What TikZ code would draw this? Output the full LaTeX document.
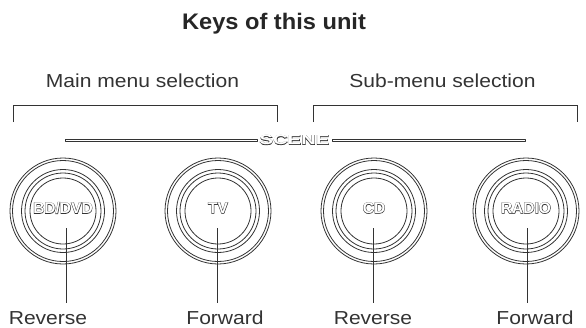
\documentclass[tikz,border=0pt]{standalone}
\usepackage{fontspec}
\setmainfont{Liberation Sans}
\newfontfamily\lightfont[FakeStretch=1.12]{Liberation Sans}
\newfontfamily\titlefont[FakeStretch=1.05]{Liberation Sans}
\newfontfamily\keyfont{Liberation Sans Bold}
\newfontfamily\keyfontO[FakeBold=5]{Liberation Sans Bold}
\newfontfamily\scenefont[FakeStretch=1.5]{Liberation Sans Bold}
\newfontfamily\scenefontO[FakeStretch=1.5,FakeBold=5]{Liberation Sans Bold}
\definecolor{ink}{gray}{0.2}
\tikzset{
  lbl/.style={font=\lightfont\fontsize{18.8}{20}\selectfont, text=ink, inner sep=0pt, anchor=base},
  ttl/.style={font=\titlefont\bfseries\fontsize{22.5}{24}\selectfont, text=black!85, inner sep=0pt, anchor=base},
  keyO/.style={font=\keyfontO\fontsize{15.5}{16}\selectfont, text=ink, inner sep=0pt},
  keyW/.style={font=\keyfont\fontsize{15.5}{16}\selectfont, text=white, inner sep=0pt},
  sceneO/.style={font=\scenefontO\fontsize{13.5}{14}\selectfont, text=ink, inner sep=0pt},
  sceneW/.style={font=\scenefont\fontsize{13.5}{14}\selectfont, text=white, inner sep=0pt},
  ring/.style={draw=ink, line width=0.8pt},
  brk/.style={draw=ink, line width=1pt},
  bar/.style={draw=ink, line width=0.75pt, line join=round},
  lead/.style={draw=ink, line width=0.9pt},
}
\begin{document}
\begin{tikzpicture}[x=1pt,y=-1pt]
\useasboundingbox (0,0) rectangle (586,327);
\node[ttl] (title) at (274,29) {Keys of this unit};
\node[lbl] (main) at (142.5,87) {Main menu selection};
\node[lbl] (sub) at (442.5,87) {Sub-menu selection};
\draw[brk] (13,122) -- (13,105) -- (277,105) -- (277,122);
\draw[brk] (313,122) -- (313,105) -- (577,105) -- (577,122);
\node[sceneO] (scene) at (294.5,140) {SCENE};
\node[sceneW] (scenew) at (294.5,140) {SCENE};
\coordinate (sl) at (65,140);
\coordinate (sa) at (257,140);
\coordinate (sb) at (332,140);
\coordinate (sr) at (525,140);
\draw[bar] ([yshift=1.1pt]sl) -- ([yshift=1.1pt]sa) -- ([yshift=-1.1pt]sa) -- ([yshift=-1.1pt]sl) -- cycle;
\draw[bar] ([yshift=1.1pt]sb) -- ([yshift=1.1pt]sr) -- ([yshift=-1.1pt]sr) -- ([yshift=-1.1pt]sb) -- cycle;
\foreach \cx/\nm/\txt in {63/k1/{BD/DVD}, 218/k2/TV, 374/k3/CD, 526/k4/RADIO}{
  \draw[ring] (\cx,211) circle (53);
  \draw[ring] (\cx,211) circle (50.5);
  \draw[ring] (\cx,211) circle (41.5);
  \draw[ring] (\cx,211) circle (38);
  \draw[ring] (\cx,211) circle (33);
  \node[keyO] (\nm) at (\cx,208) {\txt};
  \node[keyW] (\nm w) at (\cx,208) {\txt};
}
\node[lbl] (r1) at (48,324) {Reverse};
\node[lbl] (f1) at (225,324) {Forward};
\node[lbl] (r2) at (373,324) {Reverse};
\node[lbl] (f2) at (535,324) {Forward};
\foreach \i/\lx in {1/66.5, 2/217, 3/373, 4/527}{
  \coordinate (t\i) at (\lx,228);
  \coordinate (e\i) at (\lx,303);
  \draw[lead] (t\i) -- (e\i);
}
\end{tikzpicture}
\end{document}
